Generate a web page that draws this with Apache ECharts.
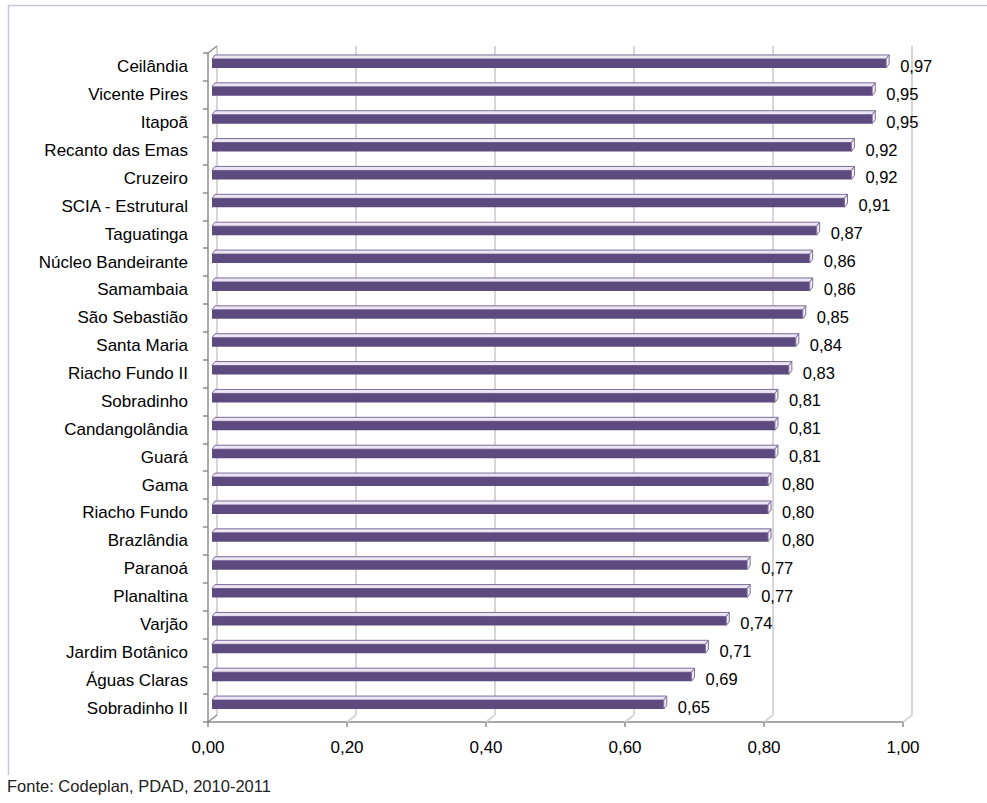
<!DOCTYPE html>
<html>
<head>
<meta charset="utf-8">
<script src="https://cdn.jsdelivr.net/npm/echarts@6/dist/echarts.min.js"></script>
<style>
  html, body { margin: 0; padding: 0; background: #fff; }
  #chart { width: 987px; height: 803px; }
</style>
</head>
<body>
<div id="chart"></div>
<script>
// Regiões administrativas, ordenadas do maior para o menor índice
const categories = [
  'Ceilândia', 'Vicente Pires', 'Itapoã', 'Recanto das Emas', 'Cruzeiro',
  'SCIA - Estrutural', 'Taguatinga', 'Núcleo Bandeirante', 'Samambaia',
  'São Sebastião', 'Santa Maria', 'Riacho Fundo II', 'Sobradinho',
  'Candangolândia', 'Guará', 'Gama', 'Riacho Fundo', 'Brazlândia',
  'Paranoá', 'Planaltina', 'Varjão', 'Jardim Botânico', 'Águas Claras',
  'Sobradinho II'
];
const values = [
  0.97, 0.95, 0.95, 0.92, 0.92, 0.91, 0.87, 0.86, 0.86, 0.85, 0.84, 0.83,
  0.81, 0.81, 0.81, 0.80, 0.80, 0.80, 0.77, 0.77, 0.74, 0.71, 0.69, 0.65
];
const axisTicks = [0, 0.2, 0.4, 0.6, 0.8, 1.0];
const sourceNote = 'Fonte: Codeplan, PDAD, 2010-2011';

const fmt = v => v.toFixed(2).replace('.', ',');
const FONT = '"Liberation Sans", Arial, sans-serif';

// 3D look: back wall is offset from the front plane
const DEPTH_X = 9, DEPTH_Y = -7;
const GRID_COLOR = '#d6d6d6';
const AXIS_COLOR = '#8c8c8c';

const chart = echarts.init(document.getElementById('chart'), null, { renderer: 'svg' });

function renderWall(params, api) {
  const v = api.value(0);
  const cs = params.coordSys;
  const x = api.coord([v, 0])[0];
  const bottom = cs.y + cs.height;
  const top = cs.y;
  const isFirst = v === 0;
  const children = [
    { type: 'line', shape: { x1: x + DEPTH_X, y1: top + DEPTH_Y, x2: x + DEPTH_X, y2: bottom + DEPTH_Y },
      style: { stroke: GRID_COLOR, lineWidth: 2 } },
    { type: 'line', shape: { x1: x, y1: bottom, x2: x + DEPTH_X, y2: bottom + DEPTH_Y },
      style: { stroke: isFirst ? AXIS_COLOR : GRID_COLOR, lineWidth: isFirst ? 1.5 : 2 } }
  ];
  if (isFirst) {
    children.push({ type: 'line', shape: { x1: x, y1: top, x2: x + DEPTH_X, y2: top + DEPTH_Y },
      style: { stroke: AXIS_COLOR, lineWidth: 1.5 } });
  }
  return { type: 'group', children };
}

function renderBar(params, api) {
  const idx = api.value(1);
  const val = api.value(0);
  const p0 = api.coord([0, idx]);
  const p1 = api.coord([val, idx]);
  const yc = p0[1];
  const ox = 4;
  const x0 = p0[0] + ox, x1 = p1[0] + ox;
  const yt = yc - 8, h = 9;
  const dx = 3, dy = -4;
  return {
    type: 'group',
    children: [
      { type: 'polygon', shape: { points: [[x0, yt], [x1, yt], [x1 + dx, yt + dy], [x0 + dx, yt + dy]] },
        style: { fill: '#ebe6f2', stroke: '#7d6c9c', lineWidth: 1 } },
      { type: 'rect', shape: { x: x0, y: yt, width: x1 - x0, height: h },
        style: { fill: '#5d4a7e' } },
      { type: 'polygon', shape: { points: [[x1, yt], [x1 + dx, yt + dy], [x1 + dx, yt + dy + h], [x1, yt + h]] },
        style: { fill: '#f1eef6', stroke: '#7d6c9c', lineWidth: 1 } },
      { type: 'text', style: { text: fmt(val), x: p1[0] + 18, y: yc - 1,
        verticalAlign: 'middle', align: 'left', fill: '#000',
        font: '16.5px ' + FONT } }
    ]
  };
}

chart.setOption({
  animation: false,
  textStyle: { fontFamily: FONT },
  graphic: [
    { type: 'polyline', shape: { points: [[8.5, 775], [8.5, 5.5], [987, 5.5]] },
      style: { stroke: '#cdc2e0', lineWidth: 1.5, fill: null } },
    { type: 'text', left: 7, top: 777,
      style: { text: sourceNote, fill: '#222', font: '16.5px ' + FONT } }
  ],
  grid: { left: 208, right: 84, top: 53, bottom: 81 },
  xAxis: {
    type: 'value', min: 0, max: 1, interval: 0.2,
    axisLine: { show: true, lineStyle: { color: AXIS_COLOR, width: 1.5 } },
    axisTick: { show: true, length: 5, lineStyle: { color: AXIS_COLOR, width: 1.5 } },
    splitLine: { show: false },
    axisLabel: { formatter: v => fmt(v), color: '#000', fontSize: 17, margin: 17 }
  },
  yAxis: {
    type: 'category', inverse: true, data: categories,
    axisLine: { show: true, lineStyle: { color: AXIS_COLOR, width: 1.5 } },
    axisTick: { show: true, length: 5, lineStyle: { color: AXIS_COLOR, width: 1.5 } },
    axisLabel: { color: '#000', fontSize: 17, margin: 20 }
  },
  series: [
    {
      type: 'custom', name: 'parede', z: 1, silent: true, clip: false,
      data: axisTicks.map(v => [v, 0]),
      encode: { x: 0, y: 1 },
      renderItem: renderWall
    },
    {
      type: 'custom', name: 'índice', z: 3, clip: false,
      data: values.map((v, i) => [v, i]),
      encode: { x: 0, y: 1 },
      renderItem: renderBar
    }
  ]
});
</script>
</body>
</html>
